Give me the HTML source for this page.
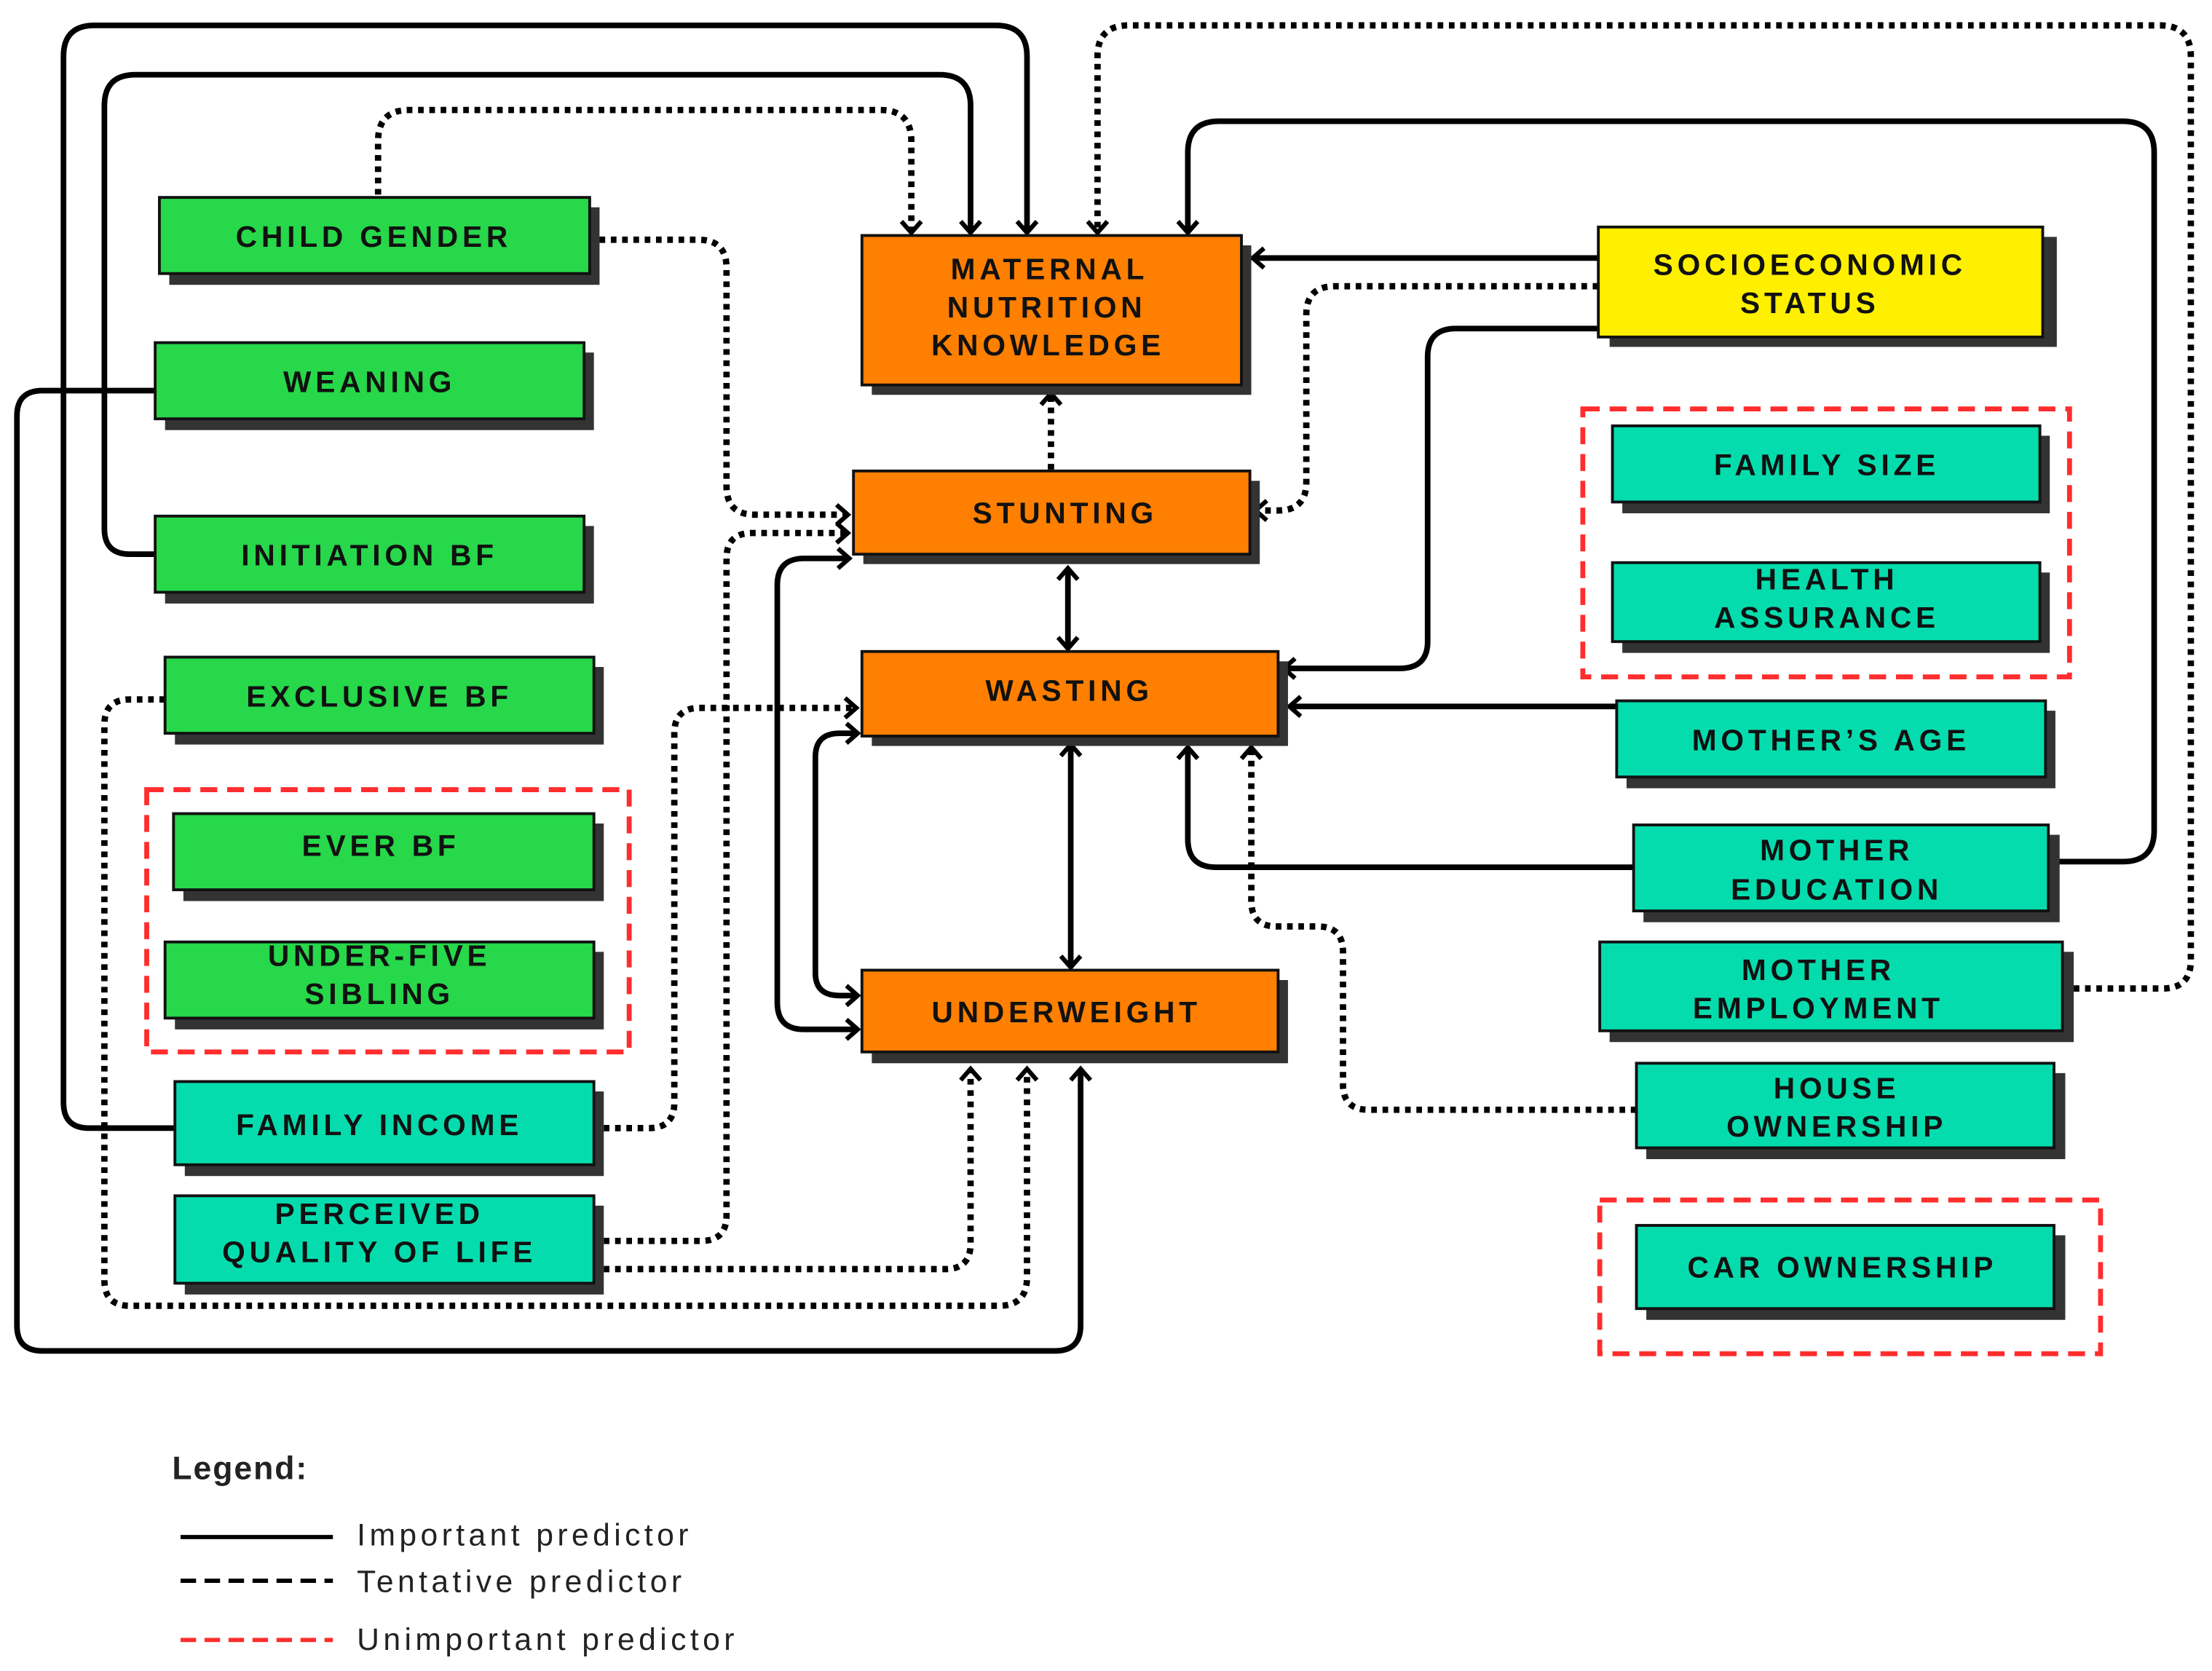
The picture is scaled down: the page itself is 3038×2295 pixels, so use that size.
<!DOCTYPE html>
<html><head><meta charset="utf-8"><style>
html,body{margin:0;padding:0;background:#fff;}
svg{display:block;}
.bt{font-family:"Liberation Sans",sans-serif;font-weight:bold;font-size:21px;letter-spacing:3px;fill:#111;text-anchor:middle;}
.s{fill:none;stroke:#000;stroke-width:4;}
.d{fill:none;stroke:#000;stroke-width:4.5;stroke-dasharray:4 4;}
.sh{fill:#333;}
.box{stroke:#111;stroke-width:2;}
.g{fill:#26d84a;} .t{fill:#05dcae;} .o{fill:#ff7f00;} .y{fill:#fff000;}
.r{fill:none;stroke:#ff2d2d;stroke-width:3.5;stroke-dasharray:12 7;}
.lg{font-family:"Liberation Sans",sans-serif;font-size:22px;fill:#222;letter-spacing:2.8px;}
</style></head><body>
<svg width="3038" height="2295" viewBox="0 0 1568 1185" preserveAspectRatio="none" xmlns="http://www.w3.org/2000/svg">
<defs>
<marker id="a" markerUnits="userSpaceOnUse" markerWidth="20" markerHeight="20" viewBox="-2 -2 14 20" refX="9" refY="8" orient="auto-start-reverse">
<path d="M1,1 L9,8 L1,15" fill="none" stroke="#000" stroke-width="3.2"/></marker>
</defs>

<path class="s" d="M110,277 H30 Q12,277 12,295 V940 Q12,958 30,958 H748 Q766,958 766,940 V758" marker-end="url(#a)"/>
<path class="s" d="M124,800 H63 Q45,800 45,782 V40 Q45,18 67,18 H706 Q728,18 728,40 V165" marker-end="url(#a)"/>
<path class="s" d="M110,393 H92 Q74,393 74,375 V75 Q74,53 96,53 H666 Q688,53 688,75 V165" marker-end="url(#a)"/>
<path class="s" d="M1133,183 H888" marker-end="url(#a)"/>
<path class="s" d="M1133,233 H1032 Q1012,233 1012,253 V455 Q1012,474 992,474 H910" marker-end="url(#a)"/>
<path class="s" d="M1146,501 H914" marker-end="url(#a)"/>
<path class="s" d="M1158,615 H862 Q842,615 842,595 V530" marker-end="url(#a)"/>
<path class="s" d="M1452,611 H1505 Q1527,611 1527,589 V108 Q1527,86 1505,86 H864 Q842,86 842,108 V165" marker-end="url(#a)"/>
<path class="s" d="M757,403 V460" marker-start="url(#a)" marker-end="url(#a)"/>
<path class="s" d="M759,528 V686" marker-start="url(#a)" marker-end="url(#a)"/>
<path class="s" d="M608,730 H570 Q551,730 551,711 V415 Q551,396 570,396 H602" marker-start="url(#a)" marker-end="url(#a)"/>
<path class="s" d="M608,706 H595 Q578,706 578,690 V537 Q578,520 595,520 H608" marker-start="url(#a)" marker-end="url(#a)"/>

<path class="d" d="M268,138 V100 Q268,78 290,78 H624 Q646,78 646,100 V165" marker-end="url(#a)"/>
<path class="d" d="M425,170 H495 Q515,170 515,190 V345 Q515,365 535,365 H601" marker-end="url(#a)"/>
<path class="d" d="M117,496 H92 Q74,496 74,514 V908 Q74,926 92,926 H708 Q728,926 728,906 V758" marker-end="url(#a)"/>
<path class="d" d="M428,880 H497 Q515,880 515,862 V396 Q515,378 533,378 H601" marker-end="url(#a)"/>
<path class="d" d="M428,800 H460 Q478,800 478,782 V520 Q478,502 496,502 H607" marker-end="url(#a)"/>
<path class="d" d="M428,900 H670 Q688,900 688,882 V758" marker-end="url(#a)"/>
<path class="d" d="M1133,203 H946 Q926,203 926,223 V342 Q926,362 906,362 H890" marker-end="url(#a)"/>
<path class="d" d="M1470,701 H1533 Q1553,701 1553,681 V40 Q1553,18 1531,18 H800 Q778,18 778,40 V165" marker-end="url(#a)"/>
<path class="d" d="M1160,787 H970 Q952,787 952,769 V675 Q952,657 934,657 H905 Q887,657 887,639 V530" marker-end="url(#a)"/>
<path class="d" d="M745,333 V279" marker-end="url(#a)"/>

<rect class="r" x="104" y="560" width="342" height="186"/>
<rect class="r" x="1122" y="290" width="345" height="190"/>
<rect class="r" x="1134" y="851" width="355" height="109"/>

<g>
<rect class="sh" x="120" y="147" width="305" height="55"/><rect class="box g" x="113" y="140" width="305" height="54"/>
<text class="bt" x="265" y="175">CHILD GENDER</text>
<rect class="sh" x="117" y="250" width="304" height="55"/><rect class="box g" x="110" y="243" width="304" height="54"/>
<text class="bt" x="262" y="278">WEANING</text>
<rect class="sh" x="117" y="373" width="304" height="55"/><rect class="box g" x="110" y="366" width="304" height="54"/>
<text class="bt" x="262" y="401">INITIATION BF</text>
<rect class="sh" x="124" y="473" width="304" height="55"/><rect class="box g" x="117" y="466" width="304" height="54"/>
<text class="bt" x="269" y="501">EXCLUSIVE BF</text>
<rect class="sh" x="130" y="584" width="298" height="55"/><rect class="box g" x="123" y="577" width="298" height="54"/>
<text class="bt" x="270" y="607">EVER BF</text>
<rect class="sh" x="124" y="675" width="304" height="55"/><rect class="box g" x="117" y="668" width="304" height="54"/>
<text class="bt" x="269" y="685">UNDER-FIVE</text><text class="bt" x="269" y="712">SIBLING</text>
<rect class="sh" x="131" y="774" width="297" height="60"/><rect class="box t" x="124" y="767" width="297" height="59"/>
<text class="bt" x="269" y="805">FAMILY INCOME</text>
<rect class="sh" x="131" y="855" width="297" height="63"/><rect class="box t" x="124" y="848" width="297" height="62"/>
<text class="bt" x="269" y="868">PERCEIVED</text><text class="bt" x="269" y="895">QUALITY OF LIFE</text>

<rect class="sh" x="618" y="174" width="269" height="106"/><rect class="box o" x="611" y="167" width="269" height="106"/>
<text class="bt" x="744" y="198">MATERNAL</text><text class="bt" x="742" y="225">NUTRITION</text><text class="bt" x="743" y="252">KNOWLEDGE</text>
<rect class="sh" x="612" y="341" width="281" height="59"/><rect class="box o" x="605" y="334" width="281" height="59"/>
<text class="bt" x="755" y="371">STUNTING</text>
<rect class="sh" x="618" y="469" width="295" height="60"/><rect class="box o" x="611" y="462" width="295" height="60"/>
<text class="bt" x="758" y="497">WASTING</text>
<rect class="sh" x="618" y="695" width="295" height="59"/><rect class="box o" x="611" y="688" width="295" height="58"/>
<text class="bt" x="756" y="725">UNDERWEIGHT</text>

<rect class="sh" x="1141" y="168" width="317" height="78"/><rect class="box y" x="1133" y="161" width="315" height="78"/>
<text class="bt" x="1283" y="195">SOCIOECONOMIC</text><text class="bt" x="1283" y="222">STATUS</text>
<rect class="sh" x="1150" y="309" width="303" height="55"/><rect class="box t" x="1143" y="302" width="303" height="54"/>
<text class="bt" x="1295" y="337">FAMILY SIZE</text>
<rect class="sh" x="1150" y="406" width="303" height="57"/><rect class="box t" x="1143" y="399" width="303" height="56"/>
<text class="bt" x="1295" y="418">HEALTH</text><text class="bt" x="1295" y="445">ASSURANCE</text>
<rect class="sh" x="1153" y="504" width="304" height="55"/><rect class="box t" x="1146" y="497" width="304" height="54"/>
<text class="bt" x="1298" y="532">MOTHER’S AGE</text>
<rect class="sh" x="1165" y="592" width="295" height="62"/><rect class="box t" x="1158" y="585" width="294" height="61"/>
<text class="bt" x="1302" y="610">MOTHER</text><text class="bt" x="1302" y="638">EDUCATION</text>
<rect class="sh" x="1141" y="675" width="329" height="64"/><rect class="box t" x="1134" y="668" width="328" height="63"/>
<text class="bt" x="1289" y="695">MOTHER</text><text class="bt" x="1289" y="722">EMPLOYMENT</text>
<rect class="sh" x="1167" y="761" width="297" height="61"/><rect class="box t" x="1160" y="754" width="296" height="60"/>
<text class="bt" x="1302" y="779">HOUSE</text><text class="bt" x="1302" y="806">OWNERSHIP</text>
<rect class="sh" x="1167" y="876" width="297" height="60"/><rect class="box t" x="1160" y="869" width="296" height="59"/>
<text class="bt" x="1306" y="906">CAR OWNERSHIP</text>
</g>

<text x="122" y="1049" font-family="Liberation Sans, sans-serif" font-weight="bold" font-size="23" letter-spacing="1" fill="#222">Legend:</text>
<line x1="128" y1="1090" x2="236" y2="1090" stroke="#000" stroke-width="3"/>
<line x1="128" y1="1121" x2="236" y2="1121" stroke="#000" stroke-width="3" stroke-dasharray="11 6"/>
<line x1="128" y1="1163" x2="236" y2="1163" stroke="#ff2d2d" stroke-width="3" stroke-dasharray="11 6"/>
<text class="lg" x="253" y="1096">Important predictor</text>
<text class="lg" x="253" y="1129">Tentative predictor</text>
<text class="lg" x="253" y="1170">Unimportant predictor</text>
</svg>
</body></html>
